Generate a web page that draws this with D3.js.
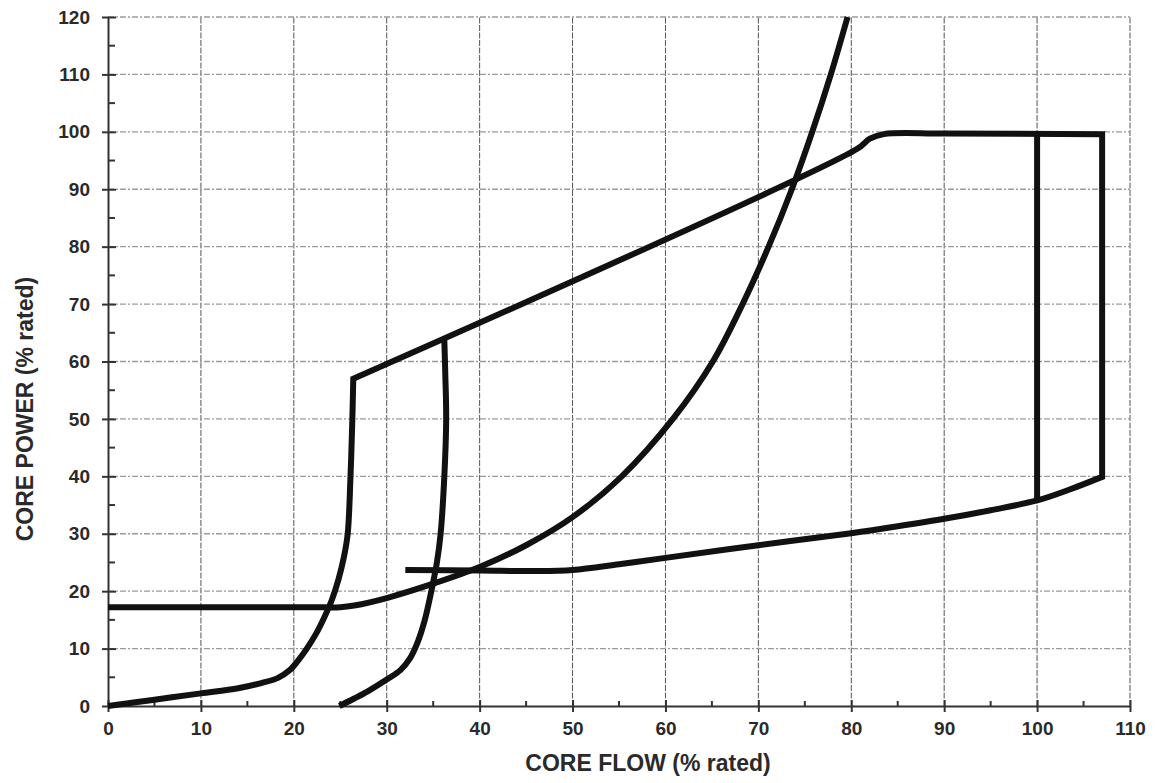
<!DOCTYPE html>
<html>
<head>
<meta charset="utf-8">
<script src="https://cdn.jsdelivr.net/npm/d3@7"></script>
<style>
  html, body { margin: 0; padding: 0; background: #fff; }
  svg { display: block; }
  text { font-family: "Liberation Sans", Arial, sans-serif; font-weight: bold; fill: #2a2a2a; }
</style>
</head>
<body>
<svg id="chart" width="1156" height="783"></svg>
<script>
// ---- data ----
const xTicks = [0, 10, 20, 30, 40, 50, 60, 70, 80, 90, 100, 110];
const yTicks = [0, 10, 20, 30, 40, 50, 60, 70, 80, 90, 100, 110, 120];
const xTitle = "CORE FLOW (% rated)";
const yTitle = "CORE POWER (% rated)";

// operating domain boundary: startup curve, rod line, 100% power, flow limit, lower boundary
const boundaryFlow  = [0, 5, 10, 14, 16.5, 18.3, 19.6, 20.5, 21.4, 22.4, 23.3, 24.1, 24.8, 25.4, 25.8, 26.1, 26.3, 26.4,
                       80.6, 82, 83.5, 90, 107, 107, 103.5, 100, 95, 90, 85, 80, 70, 60, 55, 50, 46, 40, 32];
const boundaryPower = [0, 1.1, 2.2, 3.1, 4.0, 4.9, 6.3, 8, 10, 12.6, 15.5, 18.5, 22, 26, 30, 40, 50, 57,
                       97, 98.8, 99.6, 99.7, 99.6, 39.9, 37.7, 35.8, 34.1, 32.6, 31.3, 30.1, 28.0, 25.8, 24.7, 23.7, 23.5, 23.6, 23.7];
// indices of sharp corners along the boundary
const boundaryCorners = [17, 22, 23];

// steep curve
const curveBFlow  = [0, 12, 22, 25, 26.5, 30, 35, 40, 45, 50, 55.3, 60.8, 65.1, 68.3, 71.1, 73.6, 75.8, 77.8, 79.6];
const curveBPower = [17.2, 17.2, 17.2, 17.2, 17.5, 18.8, 21.3, 24.2, 28.0, 32.9, 40, 50, 60, 70, 80, 90, 100, 110, 120];

// minimum pump speed line
const curveCFlow  = [24.9, 26.5, 28, 30, 31.5, 32.5, 33.3, 34.1, 34.8, 35.4, 35.8, 36.2, 36.4, 36.3, 36.2];
const curveCPower = [0, 1.3, 2.6, 4.6, 6.3, 8.3, 11, 15, 20, 25, 30, 40, 50, 58, 63.7];

// 100% flow line
const curveDFlow  = [100, 100];
const curveDPower = [35.8, 99.7];

// ---- layout ----
const W = 1156, H = 783;
const m = { left: 108, right: 26, top: 17, bottom: 77 };
const svg = d3.select("#chart");

const x = d3.scaleLinear().domain([0, 110]).range([m.left, W - m.right]);
const y = d3.scaleLinear().domain([0, 120]).range([H - m.bottom, m.top]);

// grid
const grid = svg.append("g");
grid.selectAll("line.gx").data(xTicks.filter(d => d > 0)).join("line")
  .attr("x1", d => x(d)).attr("x2", d => x(d))
  .attr("y1", y(0)).attr("y2", y(120))
  .attr("stroke", "#555").attr("stroke-width", 1).attr("stroke-dasharray", "6,1.5");
grid.selectAll("line.gy").data(yTicks.filter(d => d > 0)).join("line")
  .attr("x1", x(0)).attr("x2", x(110))
  .attr("y1", d => y(d)).attr("y2", d => y(d))
  .attr("stroke", "#9a9a9a").attr("stroke-width", 1.3).attr("stroke-dasharray", "6,2,2,2");

// axes
const axisG = svg.append("g");
const xAxis = d3.axisBottom(x).tickValues(xTicks).tickSize(6).tickSizeOuter(0).tickPadding(10);
const gx = axisG.append("g").attr("transform", `translate(0,${y(0)})`).call(xAxis);
gx.select(".domain").attr("stroke", "#333").attr("stroke-width", 2);
gx.selectAll(".tick line").attr("stroke", "#333").attr("stroke-width", 2).attr("y1", -6);
gx.selectAll(".tick text").attr("font-size", 19).attr("font-weight", "bold")
  .attr("font-family", "Liberation Sans, Arial, sans-serif").attr("fill", "#2a2a2a");
axisG.selectAll("line.mx").data(d3.range(5, 110, 10)).join("line")
  .attr("x1", d => x(d)).attr("x2", d => x(d))
  .attr("y1", y(0)).attr("y2", y(0) - 5)
  .attr("stroke", "#333").attr("stroke-width", 2);

const yAxis = d3.axisLeft(y).tickValues(yTicks).tickSize(6).tickSizeOuter(0).tickPadding(12);
const gy = axisG.append("g").attr("transform", `translate(${x(0)},0)`).call(yAxis);
gy.select(".domain").attr("stroke", "#333").attr("stroke-width", 2);
gy.selectAll(".tick line").attr("stroke", "#333").attr("stroke-width", 2).attr("x2", 8).attr("x1", -6);
gy.selectAll(".tick text").attr("font-size", 19).attr("font-weight", "bold")
  .attr("font-family", "Liberation Sans, Arial, sans-serif").attr("fill", "#2a2a2a");
axisG.selectAll("line.my").data(d3.range(5, 120, 10)).join("line")
  .attr("x1", x(0)).attr("x2", x(0) + 7)
  .attr("y1", d => y(d)).attr("y2", d => y(d))
  .attr("stroke", "#333").attr("stroke-width", 2);

// curves
const smooth = d3.line().x(d => x(d[0])).y(d => y(d[1])).curve(d3.curveCatmullRom.alpha(0.5));

// piecewise-smooth path with sharp corners, joined as one continuous path
function cornered(pts, corners) {
  const cuts = [0, ...corners, pts.length - 1];
  let d = "";
  for (let i = 0; i < cuts.length - 1; i++) {
    const piece = pts.slice(cuts[i], cuts[i + 1] + 1);
    let s = smooth(piece);
    if (i > 0) s = "L" + s.slice(1);
    d += s;
  }
  return d;
}

const paths = [
  cornered(d3.zip(boundaryFlow, boundaryPower), boundaryCorners),
  smooth(d3.zip(curveBFlow, curveBPower)),
  smooth(d3.zip(curveCFlow, curveCPower)),
  smooth(d3.zip(curveDFlow, curveDPower))
];
svg.append("g").selectAll("path").data(paths).join("path")
  .attr("d", d => d)
  .attr("fill", "none")
  .attr("stroke", "#111")
  .attr("stroke-width", 6)
  .attr("stroke-linejoin", "miter")
  .attr("stroke-linecap", "butt");

// titles
svg.append("text").attr("x", 648).attr("y", 771).attr("text-anchor", "middle")
  .attr("font-size", 23).text(xTitle);
svg.append("text").attr("transform", "translate(33,409) rotate(-90)").attr("text-anchor", "middle")
  .attr("font-size", 23).text(yTitle);
</script>
</body>
</html>
